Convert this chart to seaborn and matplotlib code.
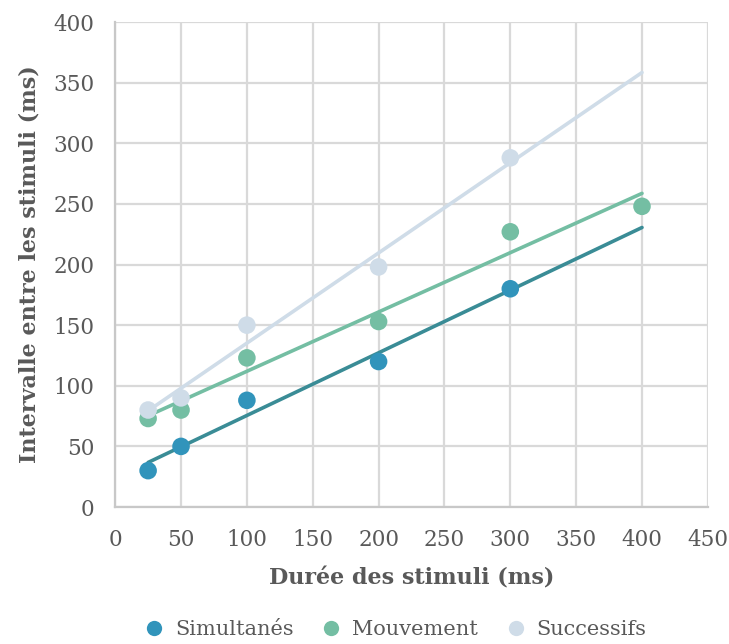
import numpy as np
import pandas as pd
import seaborn as sns
from matplotlib import pyplot as plt
from matplotlib.font_manager import FontProperties

# data
x_simul = [25, 50, 100, 200, 300]
y_simul = [30, 50, 88, 120, 180]
x_mouv = [25, 50, 100, 200, 300, 400]
y_mouv = [73, 80, 123, 153, 227, 248]
x_succ = [25, 50, 100, 200, 300]
y_succ = [80, 90, 150, 198, 288]
series = ['Simultanés', 'Mouvement', 'Successifs']

point_colors = ['#3194bb', '#74bea3', '#cfdce8']
line_colors = ['#3a8c96', '#74bea3', '#cfdce8']

sns.set_theme(style='white')
plt.rcParams['font.family'] = ['serif']
plt.rcParams['font.serif'] = ['DejaVu Serif']

df = pd.concat([
    pd.DataFrame({'x': x_simul, 'y': y_simul, 'serie': series[0]}),
    pd.DataFrame({'x': x_mouv, 'y': y_mouv, 'serie': series[1]}),
    pd.DataFrame({'x': x_succ, 'y': y_succ, 'serie': series[2]}),
])

fig = plt.figure(figsize=(7.29, 6.44), dpi=100)
ax = fig.add_axes([0.158, 0.2127, 0.813, 0.7531])

# linear trend lines from 25 to 400 ms
for name, lc in zip(series, line_colors):
    sub = df[df.serie == name]
    a, b = np.polyfit(sub.x, sub.y, 1)
    tx = np.array([25, 400])
    sns.lineplot(x=tx, y=a * tx + b, color=lc, linewidth=2.6, ax=ax,
                 zorder=3, legend=False)

sns.scatterplot(data=df, x='x', y='y', hue='serie', hue_order=series,
                palette=point_colors, s=160, edgecolor='none', ax=ax,
                zorder=4, legend=False)

ax.set_xlim(0, 450)
ax.set_ylim(0, 400)
ax.set_xticks(range(0, 451, 50))
ax.set_yticks(range(0, 401, 50))
ax.grid(True, color='#d9d9d9', linewidth=1.6)
ax.set_axisbelow(True)
for s in ['top', 'right']:
    ax.spines[s].set_visible(False)
for s in ['left', 'bottom']:
    ax.spines[s].set_color('#c8c8c8')
    ax.spines[s].set_linewidth(1.6)
ax.tick_params(axis='both', length=0, labelsize=15.5, labelcolor='#595959')
ax.tick_params(axis='x', pad=16)
ax.tick_params(axis='y', pad=15)

ax.set_xlabel('Durée des stimuli (ms)', fontsize=16, fontweight='bold',
              color='#595959', labelpad=12)
ax.set_ylabel('Intervalle entre les stimuli (ms)', fontsize=16,
              fontweight='bold', color='#595959', labelpad=9)

handles = [plt.Line2D([], [], marker='o', linestyle='none', markersize=11,
                      markerfacecolor=c, markeredgecolor='none')
           for c in point_colors]
leg = fig.legend(handles, series, loc='lower center',
                 bbox_to_anchor=(0.535, -0.022), ncol=3, frameon=False,
                 prop=FontProperties(family='serif', size=15),
                 handletextpad=0.0, columnspacing=0.8)
for t in leg.get_texts():
    t.set_color('#595959')

fig.savefig('out.png', dpi=100)
